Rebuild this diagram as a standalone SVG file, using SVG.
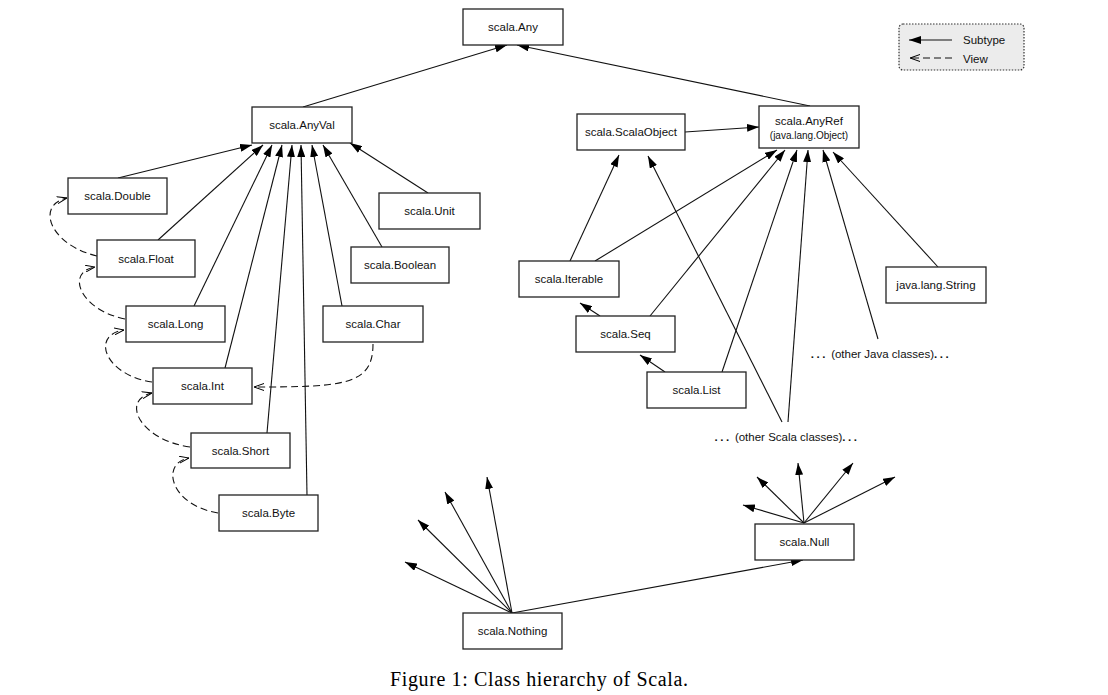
<svg xmlns="http://www.w3.org/2000/svg" width="1108" height="695" viewBox="0 0 1108 695">
<style>
.box{fill:#fff;stroke:#222;stroke-width:1.3}
.t{font-family:"Liberation Sans",Arial,sans-serif;font-size:11.5px;fill:#111;text-anchor:middle}
.s{fill:none;stroke:#111;stroke-width:1.1}
.sub{marker-end:url(#tri)}
.v{fill:none;stroke:#111;stroke-width:1.1;stroke-dasharray:7,4;marker-end:url(#open)}
.dots{letter-spacing:2.5px;font-weight:bold}
</style>
<defs>
<marker id="tri" viewBox="0 0 12 8" refX="12" refY="4" markerWidth="12" markerHeight="8" markerUnits="userSpaceOnUse" orient="auto"><path d="M0,0 L12,4 L0,8 z" fill="#000"/></marker>
<marker id="open" viewBox="0 0 10 8" refX="10" refY="4" markerWidth="10" markerHeight="8" markerUnits="userSpaceOnUse" orient="auto"><path d="M0,0.5 L10,4 L0,7.5" fill="none" stroke="#000" stroke-width="1"/></marker>
</defs>
<rect width="1108" height="695" fill="#fff"/>

<g id="connectors">
<line class="s sub" x1="303" y1="107" x2="507" y2="45"/>
<line class="s sub" x1="810" y1="106" x2="517" y2="45"/>
<line class="s sub" x1="118" y1="178" x2="252" y2="145"/>
<line class="s sub" x1="158" y1="240" x2="263" y2="145"/>
<line class="s sub" x1="194" y1="306" x2="272" y2="145"/>
<line class="s sub" x1="225" y1="368" x2="282" y2="145"/>
<line class="s sub" x1="267" y1="433" x2="292" y2="145"/>
<line class="s sub" x1="307" y1="495" x2="301" y2="145"/>
<line class="s sub" x1="342" y1="306" x2="312" y2="145"/>
<line class="s sub" x1="382" y1="247" x2="323" y2="145"/>
<line class="s sub" x1="428" y1="193" x2="350" y2="143"/>
<path class="v" d="M97,256 C50,245 35,205 67,198"/>
<path class="v" d="M125,319 C80,310 65,272 95,267"/>
<path class="v" d="M152,382 C105,375 90,335 124,330"/>
<path class="v" d="M190,447 C140,440 120,400 152,393"/>
<path class="v" d="M218,513 C170,505 160,463 189,458"/>
<path class="v" d="M373,344 C373,385 345,387 254,387"/>
<line class="s sub" x1="685" y1="132" x2="759" y2="127"/>
<line class="s sub" x1="570" y1="261" x2="619" y2="155"/>
<line class="s sub" x1="595" y1="261" x2="777" y2="150"/>
<line class="s sub" x1="600" y1="316" x2="580" y2="303"/>
<line class="s sub" x1="650" y1="316" x2="785" y2="150"/>
<line class="s sub" x1="665" y1="372" x2="640" y2="355"/>
<line class="s sub" x1="722" y1="372" x2="797" y2="150"/>
<line class="s sub" x1="782" y1="422" x2="648" y2="156"/>
<line class="s sub" x1="788" y1="422" x2="808" y2="150"/>
<line class="s sub" x1="878" y1="339" x2="823" y2="150"/>
<line class="s sub" x1="938" y1="267" x2="833" y2="152"/>
<line class="s sub" x1="512" y1="613" x2="405" y2="562"/>
<line class="s sub" x1="512" y1="613" x2="418" y2="520"/>
<line class="s sub" x1="512" y1="613" x2="445" y2="492"/>
<line class="s sub" x1="512" y1="613" x2="487" y2="477"/>
<line class="s sub" x1="512" y1="613" x2="803" y2="560"/>
<line class="s sub" x1="804" y1="523" x2="743" y2="505"/>
<line class="s sub" x1="804" y1="523" x2="757" y2="477"/>
<line class="s sub" x1="804" y1="523" x2="798" y2="463"/>
<line class="s sub" x1="804" y1="523" x2="853" y2="463"/>
<line class="s sub" x1="804" y1="523" x2="895" y2="477"/>
</g>

<g id="legend">
<rect x="899" y="24" width="125" height="46" rx="4" fill="#ececec" stroke="#333" stroke-width="1.2" stroke-dasharray="1.5,1.5"/>
<line class="s sub" x1="952" y1="40" x2="909" y2="40"/>
<line class="v" x1="952" y1="58" x2="910" y2="58"/>
<text class="t" x="963" y="44" style="text-anchor:start">Subtype</text>
<text class="t" x="963" y="63" style="text-anchor:start">View</text>
</g>

<g id="n-any"><rect class="box" x="463" y="9" width="100" height="36"/><text class="t" x="513" y="31">scala.Any</text></g>
<g id="n-anyval"><rect class="box" x="252" y="107" width="100" height="36"/><text class="t" x="302" y="129">scala.AnyVal</text></g>
<g id="n-double"><rect class="box" x="68" y="178" width="99" height="36"/><text class="t" x="117.5" y="200">scala.Double</text></g>
<g id="n-float"><rect class="box" x="97" y="240" width="98" height="37"/><text class="t" x="146" y="263">scala.Float</text></g>
<g id="n-unit"><rect class="box" x="379" y="193" width="101" height="36"/><text class="t" x="429.5" y="215">scala.Unit</text></g>
<g id="n-boolean"><rect class="box" x="351" y="247" width="98" height="36"/><text class="t" x="400" y="269">scala.Boolean</text></g>
<g id="n-long"><rect class="box" x="126" y="306" width="99" height="36"/><text class="t" x="175.5" y="328">scala.Long</text></g>
<g id="n-char"><rect class="box" x="323" y="306" width="100" height="36"/><text class="t" x="373" y="328">scala.Char</text></g>
<g id="n-int"><rect class="box" x="153" y="368" width="99" height="36"/><text class="t" x="202.5" y="390">scala.Int</text></g>
<g id="n-short"><rect class="box" x="191" y="433" width="99" height="35"/><text class="t" x="240.5" y="455">scala.Short</text></g>
<g id="n-byte"><rect class="box" x="219" y="495" width="99" height="36"/><text class="t" x="268.5" y="517">scala.Byte</text></g>
<g id="n-scalaobject"><rect class="box" x="577" y="114" width="108" height="36"/><text class="t" x="631" y="136">scala.ScalaObject</text></g>
<g id="n-anyref"><rect class="box" x="759" y="106" width="100" height="42"/><text class="t" x="809" y="125">scala.AnyRef</text><text class="t" x="809" y="139" style="font-size:10px">(java.lang.Object)</text></g>
<g id="n-iterable"><rect class="box" x="519" y="261" width="100" height="36"/><text class="t" x="569" y="283">scala.Iterable</text></g>
<g id="n-string"><rect class="box" x="886" y="267" width="100" height="36"/><text class="t" x="936" y="289">java.lang.String</text></g>
<g id="n-seq"><rect class="box" x="576" y="316" width="99" height="36"/><text class="t" x="625.5" y="338">scala.Seq</text></g>
<g id="n-list"><rect class="box" x="647" y="372" width="99" height="36"/><text class="t" x="696.5" y="394">scala.List</text></g>
<g id="n-java"><text class="t" x="881" y="358"><tspan class="dots">...</tspan> (other Java classes)<tspan class="dots">...</tspan></text></g>
<g id="n-scala"><text class="t" x="787" y="441"><tspan class="dots">...</tspan> (other Scala classes)<tspan class="dots">...</tspan></text></g>
<g id="n-null"><rect class="box" x="755" y="524" width="99" height="36"/><text class="t" x="804.5" y="546">scala.Null</text></g>
<g id="n-nothing"><rect class="box" x="463" y="613" width="99" height="36"/><text class="t" x="512.5" y="635">scala.Nothing</text></g>

<text x="390" y="686" textLength="298" lengthAdjust="spacing" style="font-family:'Liberation Serif','Times New Roman',serif;font-size:20px;fill:#000">Figure 1: Class hierarchy of Scala.</text>
</svg>
